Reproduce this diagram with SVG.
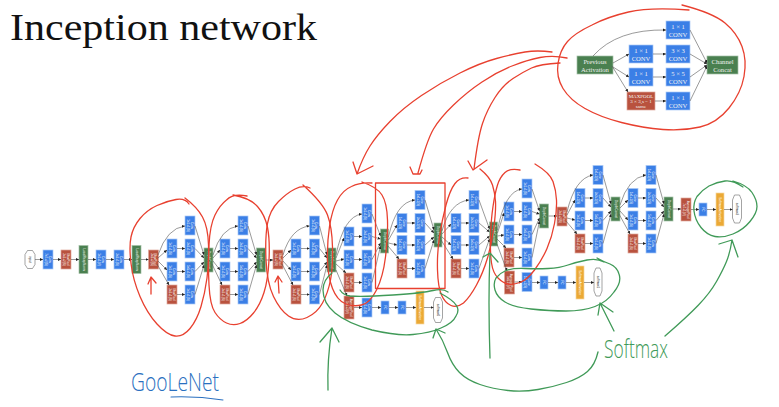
<svg xmlns="http://www.w3.org/2000/svg" width="779" height="407" viewBox="0 0 779 407">
<style>
text{font-family:"Liberation Sans",Arial,sans-serif}
.t text{font-size:3.1px;fill:#fff;text-anchor:middle}
.c rect{fill:#3b7fe6;stroke:#a9c8f5;stroke-width:.7}
.r rect{fill:#b9523e;stroke:#e0a99d;stroke-width:.7}
.g rect{fill:#4a8050;stroke:#a3c0a6;stroke-width:.7}
.o rect{fill:#eba935;stroke:#f6d79f;stroke-width:.7}
.s polygon{fill:#fff;stroke:#666;stroke-width:.6}
.s text{fill:#222}
.i text{font-family:"Liberation Serif","Times New Roman",serif;font-size:6.6px;fill:#f2f2f2;text-anchor:middle}
.i .m{font-size:5px}
.l{fill:none;stroke:#555;stroke-width:.6;marker-end:url(#a)}
.red{fill:none;stroke:#e8402f;stroke-width:1.3;stroke-linecap:round;stroke-linejoin:round}
.grn{fill:none;stroke:#409a58;stroke-width:1.3;stroke-linecap:round;stroke-linejoin:round}
.blu{fill:none;stroke:#2a70c0;stroke-width:1.1;stroke-linecap:round}
</style>
<defs><marker id="a" markerWidth="4" markerHeight="4" refX="3" refY="1.5" orient="auto" markerUnits="userSpaceOnUse"><path d="M0 0L3 1.5L0 3z" fill="#222"/></marker></defs>
<rect width="779" height="407" fill="#fff"/>
<text id="title" x="10" y="40" font-size="38" textLength="307" lengthAdjust="spacingAndGlyphs" style="font-family:'Liberation Serif','Times New Roman',serif" fill="#111">Inception network</text>

<g id="inset" class="i">
<g id="i-prev" class="g"><rect x="577" y="56" width="36" height="18"/><text x="595" y="63.5">Previous</text><text x="595" y="71.5">Activation</text></g>
<g id="i-top" class="c"><rect x="666" y="21" width="24" height="18"/><text x="678" y="28.5">1 × 1</text><text x="678" y="36.5">CONV</text></g>
<g id="i-a1" class="c"><rect x="629" y="45" width="24" height="18"/><text x="641" y="52.5">1 × 1</text><text x="641" y="60.5">CONV</text></g>
<g id="i-a2" class="c"><rect x="629" y="68" width="24" height="18"/><text x="641" y="75.5">1 × 1</text><text x="641" y="83.5">CONV</text></g>
<g id="i-pool" class="r"><rect x="627" y="92" width="28" height="18"/><text class="m" x="641" y="97.5">MAXPOOL</text><text class="m" x="641" y="102.5">3 × 3,s = 1</text><text class="m" x="641" y="108">same</text></g>
<g id="i-b1" class="c"><rect x="666" y="45" width="24" height="18"/><text x="678" y="52.5">3 × 3</text><text x="678" y="60.5">CONV</text></g>
<g id="i-b2" class="c"><rect x="666" y="68" width="24" height="18"/><text x="678" y="75.5">5 × 5</text><text x="678" y="83.5">CONV</text></g>
<g id="i-b3" class="c"><rect x="666" y="92" width="24" height="18"/><text x="678" y="99.5">1 × 1</text><text x="678" y="107.5">CONV</text></g>
<g id="i-concat" class="g"><rect x="707" y="56" width="31" height="18"/><text x="722.5" y="63.5">Channel</text><text x="722.5" y="71.5">Concat</text></g>
</g>

<g id="stem" class="t">
<g id="input" class="s" transform="translate(30,259.5)"><polygon points="-2.5,-9 2.5,-9 5,-5 5,5 2.5,9 -2.5,9 -5,5 -5,-5"/><text transform="rotate(90)" y="1">input</text></g>
<g id="s1" class="c" transform="translate(48,259.5)"><rect x="-5" y="-9.5" width="10" height="19"/><text transform="rotate(90)"><tspan x="0" y="-.5">Conv</tspan><tspan x="0" y="3">7x7+2(S)</tspan></text></g>
<g id="s2" class="r" transform="translate(66,259.5)"><rect x="-5" y="-9.5" width="10" height="19"/><text transform="rotate(90)"><tspan x="0" y="-.5">MaxPool</tspan><tspan x="0" y="3">3x3+2(S)</tspan></text></g>
<g id="s3" class="g" transform="translate(83.5,259.5)"><rect x="-4.5" y="-14" width="9" height="28"/><text transform="rotate(90)" y="1">LocalRespNorm</text></g>
<g id="s4" class="c" transform="translate(101,259.5)"><rect x="-5" y="-9.5" width="10" height="19"/><text transform="rotate(90)"><tspan x="0" y="-.5">Conv</tspan><tspan x="0" y="3">1x1+1(V)</tspan></text></g>
<g id="s5" class="c" transform="translate(119,259.5)"><rect x="-5" y="-9.5" width="10" height="19"/><text transform="rotate(90)"><tspan x="0" y="-.5">Conv</tspan><tspan x="0" y="3">3x3+1(S)</tspan></text></g>
<g id="s6" class="g" transform="translate(136.5,259.5)"><rect x="-4.5" y="-14" width="9" height="28"/><text transform="rotate(90)" y="1">LocalRespNorm</text></g>
<g id="s7" class="r" transform="translate(153.5,259.5)"><rect x="-5" y="-9.5" width="10" height="19"/><text transform="rotate(90)"><tspan x="0" y="-.5">MaxPool</tspan><tspan x="0" y="3">3x3+2(S)</tspan></text></g>
</g>

<g id="module1" class="t">
<g id="m1a1" class="c" transform="translate(172,248.5)"><rect x="-5" y="-9.5" width="10" height="19"/><text transform="rotate(90)"><tspan x="0" y="-.5">Conv</tspan><tspan x="0" y="3">1x1+1(S)</tspan></text></g>
<g id="m1a2" class="c" transform="translate(172,271.5)"><rect x="-5" y="-9.5" width="10" height="19"/><text transform="rotate(90)"><tspan x="0" y="-.5">Conv</tspan><tspan x="0" y="3">1x1+1(S)</tspan></text></g>
<g id="m1a3" class="r" transform="translate(172,294.5)"><rect x="-5" y="-9.5" width="10" height="19"/><text transform="rotate(90)"><tspan x="0" y="-.5">MaxPool</tspan><tspan x="0" y="3">3x3+1(S)</tspan></text></g>
<g id="m1b1" class="c" transform="translate(190,225.5)"><rect x="-5" y="-9.5" width="10" height="19"/><text transform="rotate(90)"><tspan x="0" y="-.5">Conv</tspan><tspan x="0" y="3">1x1+1(S)</tspan></text></g>
<g id="m1b2" class="c" transform="translate(190,248.5)"><rect x="-5" y="-9.5" width="10" height="19"/><text transform="rotate(90)"><tspan x="0" y="-.5">Conv</tspan><tspan x="0" y="3">3x3+1(S)</tspan></text></g>
<g id="m1b3" class="c" transform="translate(190,271.5)"><rect x="-5" y="-9.5" width="10" height="19"/><text transform="rotate(90)"><tspan x="0" y="-.5">Conv</tspan><tspan x="0" y="3">5x5+1(S)</tspan></text></g>
<g id="m1b4" class="c" transform="translate(190,294.5)"><rect x="-5" y="-9.5" width="10" height="19"/><text transform="rotate(90)"><tspan x="0" y="-.5">Conv</tspan><tspan x="0" y="3">1x1+1(S)</tspan></text></g>
<g id="m1d" class="g" transform="translate(208.5,260)"><rect x="-4.5" y="-12" width="9" height="24"/><text transform="rotate(90)" y="1">DepthConcat</text></g>
</g>
<g id="module2" class="t">
<g id="m2a1" class="c" transform="translate(225,248.5)"><rect x="-5" y="-9.5" width="10" height="19"/><text transform="rotate(90)"><tspan x="0" y="-.5">Conv</tspan><tspan x="0" y="3">1x1+1(S)</tspan></text></g>
<g id="m2a2" class="c" transform="translate(225,271.5)"><rect x="-5" y="-9.5" width="10" height="19"/><text transform="rotate(90)"><tspan x="0" y="-.5">Conv</tspan><tspan x="0" y="3">1x1+1(S)</tspan></text></g>
<g id="m2a3" class="r" transform="translate(225,294.5)"><rect x="-5" y="-9.5" width="10" height="19"/><text transform="rotate(90)"><tspan x="0" y="-.5">MaxPool</tspan><tspan x="0" y="3">3x3+1(S)</tspan></text></g>
<g id="m2b1" class="c" transform="translate(243,225.5)"><rect x="-5" y="-9.5" width="10" height="19"/><text transform="rotate(90)"><tspan x="0" y="-.5">Conv</tspan><tspan x="0" y="3">1x1+1(S)</tspan></text></g>
<g id="m2b2" class="c" transform="translate(243,248.5)"><rect x="-5" y="-9.5" width="10" height="19"/><text transform="rotate(90)"><tspan x="0" y="-.5">Conv</tspan><tspan x="0" y="3">3x3+1(S)</tspan></text></g>
<g id="m2b3" class="c" transform="translate(243,271.5)"><rect x="-5" y="-9.5" width="10" height="19"/><text transform="rotate(90)"><tspan x="0" y="-.5">Conv</tspan><tspan x="0" y="3">5x5+1(S)</tspan></text></g>
<g id="m2b4" class="c" transform="translate(243,294.5)"><rect x="-5" y="-9.5" width="10" height="19"/><text transform="rotate(90)"><tspan x="0" y="-.5">Conv</tspan><tspan x="0" y="3">1x1+1(S)</tspan></text></g>
<g id="m2d" class="g" transform="translate(261,260)"><rect x="-4.5" y="-12" width="9" height="24"/><text transform="rotate(90)" y="1">DepthConcat</text></g>
<g id="m2p" class="r" transform="translate(278,259.5)"><rect x="-5" y="-9.5" width="10" height="19"/><text transform="rotate(90)"><tspan x="0" y="-.5">MaxPool</tspan><tspan x="0" y="3">3x3+2(S)</tspan></text></g>
</g>
<g id="module3" class="t">
<g id="m3a1" class="c" transform="translate(296,248.5)"><rect x="-5" y="-9.5" width="10" height="19"/><text transform="rotate(90)"><tspan x="0" y="-.5">Conv</tspan><tspan x="0" y="3">1x1+1(S)</tspan></text></g>
<g id="m3a2" class="c" transform="translate(296,271.5)"><rect x="-5" y="-9.5" width="10" height="19"/><text transform="rotate(90)"><tspan x="0" y="-.5">Conv</tspan><tspan x="0" y="3">1x1+1(S)</tspan></text></g>
<g id="m3a3" class="r" transform="translate(296,294.5)"><rect x="-5" y="-9.5" width="10" height="19"/><text transform="rotate(90)"><tspan x="0" y="-.5">MaxPool</tspan><tspan x="0" y="3">3x3+1(S)</tspan></text></g>
<g id="m3b1" class="c" transform="translate(314.5,225.5)"><rect x="-5" y="-9.5" width="10" height="19"/><text transform="rotate(90)"><tspan x="0" y="-.5">Conv</tspan><tspan x="0" y="3">1x1+1(S)</tspan></text></g>
<g id="m3b2" class="c" transform="translate(314.5,248.5)"><rect x="-5" y="-9.5" width="10" height="19"/><text transform="rotate(90)"><tspan x="0" y="-.5">Conv</tspan><tspan x="0" y="3">3x3+1(S)</tspan></text></g>
<g id="m3b3" class="c" transform="translate(314.5,271.5)"><rect x="-5" y="-9.5" width="10" height="19"/><text transform="rotate(90)"><tspan x="0" y="-.5">Conv</tspan><tspan x="0" y="3">5x5+1(S)</tspan></text></g>
<g id="m3b4" class="c" transform="translate(314.5,294.5)"><rect x="-5" y="-9.5" width="10" height="19"/><text transform="rotate(90)"><tspan x="0" y="-.5">Conv</tspan><tspan x="0" y="3">1x1+1(S)</tspan></text></g>
<g id="m3d" class="g" transform="translate(331.5,260)"><rect x="-4.5" y="-12" width="9" height="24"/><text transform="rotate(90)" y="1">DepthConcat</text></g>
</g>
<g id="module4" class="t">
<g id="m4a1" class="c" transform="translate(349,236.5)"><rect x="-5" y="-9.5" width="10" height="19"/><text transform="rotate(90)"><tspan x="0" y="-.5">Conv</tspan><tspan x="0" y="3">1x1+1(S)</tspan></text></g>
<g id="m4a2" class="c" transform="translate(349,259.5)"><rect x="-5" y="-9.5" width="10" height="19"/><text transform="rotate(90)"><tspan x="0" y="-.5">Conv</tspan><tspan x="0" y="3">1x1+1(S)</tspan></text></g>
<g id="m4a3" class="r" transform="translate(349,282.5)"><rect x="-5" y="-9.5" width="10" height="19"/><text transform="rotate(90)"><tspan x="0" y="-.5">MaxPool</tspan><tspan x="0" y="3">3x3+1(S)</tspan></text></g>
<g id="m4b1" class="c" transform="translate(367,213.5)"><rect x="-5" y="-9.5" width="10" height="19"/><text transform="rotate(90)"><tspan x="0" y="-.5">Conv</tspan><tspan x="0" y="3">1x1+1(S)</tspan></text></g>
<g id="m4b2" class="c" transform="translate(367,236.5)"><rect x="-5" y="-9.5" width="10" height="19"/><text transform="rotate(90)"><tspan x="0" y="-.5">Conv</tspan><tspan x="0" y="3">3x3+1(S)</tspan></text></g>
<g id="m4b3" class="c" transform="translate(367,259.5)"><rect x="-5" y="-9.5" width="10" height="19"/><text transform="rotate(90)"><tspan x="0" y="-.5">Conv</tspan><tspan x="0" y="3">5x5+1(S)</tspan></text></g>
<g id="m4b4" class="c" transform="translate(367,282.5)"><rect x="-5" y="-9.5" width="10" height="19"/><text transform="rotate(90)"><tspan x="0" y="-.5">Conv</tspan><tspan x="0" y="3">1x1+1(S)</tspan></text></g>
<g id="m4d" class="g" transform="translate(384.5,241)"><rect x="-4" y="-12" width="8" height="24"/><text transform="rotate(90)" y="1">DepthConcat</text></g>
</g>
<g id="module5" class="t">
<g id="m5a1" class="c" transform="translate(402,223)"><rect x="-5" y="-9.5" width="10" height="19"/><text transform="rotate(90)"><tspan x="0" y="-.5">Conv</tspan><tspan x="0" y="3">1x1+1(S)</tspan></text></g>
<g id="m5a2" class="c" transform="translate(402,245)"><rect x="-5" y="-9.5" width="10" height="19"/><text transform="rotate(90)"><tspan x="0" y="-.5">Conv</tspan><tspan x="0" y="3">1x1+1(S)</tspan></text></g>
<g id="m5a3" class="r" transform="translate(402,268.5)"><rect x="-5" y="-9.5" width="10" height="19"/><text transform="rotate(90)"><tspan x="0" y="-.5">MaxPool</tspan><tspan x="0" y="3">3x3+1(S)</tspan></text></g>
<g id="m5b1" class="c" transform="translate(420,200)"><rect x="-5" y="-9.5" width="10" height="19"/><text transform="rotate(90)"><tspan x="0" y="-.5">Conv</tspan><tspan x="0" y="3">1x1+1(S)</tspan></text></g>
<g id="m5b2" class="c" transform="translate(420,223)"><rect x="-5" y="-9.5" width="10" height="19"/><text transform="rotate(90)"><tspan x="0" y="-.5">Conv</tspan><tspan x="0" y="3">3x3+1(S)</tspan></text></g>
<g id="m5b3" class="c" transform="translate(420,245)"><rect x="-5" y="-9.5" width="10" height="19"/><text transform="rotate(90)"><tspan x="0" y="-.5">Conv</tspan><tspan x="0" y="3">5x5+1(S)</tspan></text></g>
<g id="m5b4" class="c" transform="translate(420,268.5)"><rect x="-5" y="-9.5" width="10" height="19"/><text transform="rotate(90)"><tspan x="0" y="-.5">Conv</tspan><tspan x="0" y="3">1x1+1(S)</tspan></text></g>
<g id="m5d" class="g" transform="translate(438,235)"><rect x="-4" y="-12" width="8" height="24"/><text transform="rotate(90)" y="1">DepthConcat</text></g>
</g>
<g id="module6" class="t">
<g id="m6a1" class="c" transform="translate(456,223)"><rect x="-5" y="-9.5" width="10" height="19"/><text transform="rotate(90)"><tspan x="0" y="-.5">Conv</tspan><tspan x="0" y="3">1x1+1(S)</tspan></text></g>
<g id="m6a2" class="c" transform="translate(456,245)"><rect x="-5" y="-9.5" width="10" height="19"/><text transform="rotate(90)"><tspan x="0" y="-.5">Conv</tspan><tspan x="0" y="3">1x1+1(S)</tspan></text></g>
<g id="m6a3" class="r" transform="translate(456,268.5)"><rect x="-5" y="-9.5" width="10" height="19"/><text transform="rotate(90)"><tspan x="0" y="-.5">MaxPool</tspan><tspan x="0" y="3">3x3+1(S)</tspan></text></g>
<g id="m6b1" class="c" transform="translate(474,200)"><rect x="-5" y="-9.5" width="10" height="19"/><text transform="rotate(90)"><tspan x="0" y="-.5">Conv</tspan><tspan x="0" y="3">1x1+1(S)</tspan></text></g>
<g id="m6b2" class="c" transform="translate(474,223)"><rect x="-5" y="-9.5" width="10" height="19"/><text transform="rotate(90)"><tspan x="0" y="-.5">Conv</tspan><tspan x="0" y="3">3x3+1(S)</tspan></text></g>
<g id="m6b3" class="c" transform="translate(474,245)"><rect x="-5" y="-9.5" width="10" height="19"/><text transform="rotate(90)"><tspan x="0" y="-.5">Conv</tspan><tspan x="0" y="3">5x5+1(S)</tspan></text></g>
<g id="m6b4" class="c" transform="translate(474,268.5)"><rect x="-5" y="-9.5" width="10" height="19"/><text transform="rotate(90)"><tspan x="0" y="-.5">Conv</tspan><tspan x="0" y="3">1x1+1(S)</tspan></text></g>
<g id="m6d" class="g" transform="translate(493.5,234)"><rect x="-4" y="-12" width="8" height="24"/><text transform="rotate(90)" y="1">DepthConcat</text></g>
</g>
<g id="module7" class="t">
<g id="m7a1" class="c" transform="translate(509,211.5)"><rect x="-5" y="-9.5" width="10" height="19"/><text transform="rotate(90)"><tspan x="0" y="-.5">Conv</tspan><tspan x="0" y="3">1x1+1(S)</tspan></text></g>
<g id="m7a2" class="c" transform="translate(509,234.5)"><rect x="-5" y="-9.5" width="10" height="19"/><text transform="rotate(90)"><tspan x="0" y="-.5">Conv</tspan><tspan x="0" y="3">1x1+1(S)</tspan></text></g>
<g id="m7a3" class="r" transform="translate(509,257.5)"><rect x="-5" y="-9.5" width="10" height="19"/><text transform="rotate(90)"><tspan x="0" y="-.5">MaxPool</tspan><tspan x="0" y="3">3x3+1(S)</tspan></text></g>
<g id="m7b1" class="c" transform="translate(527,188.5)"><rect x="-5" y="-9.5" width="10" height="19"/><text transform="rotate(90)"><tspan x="0" y="-.5">Conv</tspan><tspan x="0" y="3">1x1+1(S)</tspan></text></g>
<g id="m7b2" class="c" transform="translate(527,211.5)"><rect x="-5" y="-9.5" width="10" height="19"/><text transform="rotate(90)"><tspan x="0" y="-.5">Conv</tspan><tspan x="0" y="3">3x3+1(S)</tspan></text></g>
<g id="m7b3" class="c" transform="translate(527,234.5)"><rect x="-5" y="-9.5" width="10" height="19"/><text transform="rotate(90)"><tspan x="0" y="-.5">Conv</tspan><tspan x="0" y="3">5x5+1(S)</tspan></text></g>
<g id="m7b4" class="c" transform="translate(527,257.5)"><rect x="-5" y="-9.5" width="10" height="19"/><text transform="rotate(90)"><tspan x="0" y="-.5">Conv</tspan><tspan x="0" y="3">1x1+1(S)</tspan></text></g>
<g id="m7d" class="g" transform="translate(544,216)"><rect x="-4.5" y="-12" width="9" height="24"/><text transform="rotate(90)" y="1">DepthConcat</text></g>
<g id="m7p" class="r" transform="translate(562,216.5)"><rect x="-5" y="-9.5" width="10" height="19"/><text transform="rotate(90)"><tspan x="0" y="-.5">MaxPool</tspan><tspan x="0" y="3">3x3+2(S)</tspan></text></g>
</g>
<g id="module8" class="t">
<g id="m8a1" class="c" transform="translate(580,198)"><rect x="-5" y="-9.5" width="10" height="19"/><text transform="rotate(90)"><tspan x="0" y="-.5">Conv</tspan><tspan x="0" y="3">1x1+1(S)</tspan></text></g>
<g id="m8a2" class="c" transform="translate(580,220.5)"><rect x="-5" y="-9.5" width="10" height="19"/><text transform="rotate(90)"><tspan x="0" y="-.5">Conv</tspan><tspan x="0" y="3">1x1+1(S)</tspan></text></g>
<g id="m8a3" class="r" transform="translate(580,243.5)"><rect x="-5" y="-9.5" width="10" height="19"/><text transform="rotate(90)"><tspan x="0" y="-.5">MaxPool</tspan><tspan x="0" y="3">3x3+1(S)</tspan></text></g>
<g id="m8b1" class="c" transform="translate(598,175)"><rect x="-5" y="-9.5" width="10" height="19"/><text transform="rotate(90)"><tspan x="0" y="-.5">Conv</tspan><tspan x="0" y="3">1x1+1(S)</tspan></text></g>
<g id="m8b2" class="c" transform="translate(598,198)"><rect x="-5" y="-9.5" width="10" height="19"/><text transform="rotate(90)"><tspan x="0" y="-.5">Conv</tspan><tspan x="0" y="3">3x3+1(S)</tspan></text></g>
<g id="m8b3" class="c" transform="translate(598,220.5)"><rect x="-5" y="-9.5" width="10" height="19"/><text transform="rotate(90)"><tspan x="0" y="-.5">Conv</tspan><tspan x="0" y="3">5x5+1(S)</tspan></text></g>
<g id="m8b4" class="c" transform="translate(598,243.5)"><rect x="-5" y="-9.5" width="10" height="19"/><text transform="rotate(90)"><tspan x="0" y="-.5">Conv</tspan><tspan x="0" y="3">1x1+1(S)</tspan></text></g>
<g id="m8d" class="g" transform="translate(615.5,209)"><rect x="-4.5" y="-12" width="9" height="24"/><text transform="rotate(90)" y="1">DepthConcat</text></g>
</g>
<g id="module9" class="t">
<g id="m9a1" class="c" transform="translate(633,198)"><rect x="-5" y="-9.5" width="10" height="19"/><text transform="rotate(90)"><tspan x="0" y="-.5">Conv</tspan><tspan x="0" y="3">1x1+1(S)</tspan></text></g>
<g id="m9a2" class="c" transform="translate(633,220.5)"><rect x="-5" y="-9.5" width="10" height="19"/><text transform="rotate(90)"><tspan x="0" y="-.5">Conv</tspan><tspan x="0" y="3">1x1+1(S)</tspan></text></g>
<g id="m9a3" class="r" transform="translate(633,243.5)"><rect x="-5" y="-9.5" width="10" height="19"/><text transform="rotate(90)"><tspan x="0" y="-.5">MaxPool</tspan><tspan x="0" y="3">3x3+1(S)</tspan></text></g>
<g id="m9b1" class="c" transform="translate(651,175)"><rect x="-5" y="-9.5" width="10" height="19"/><text transform="rotate(90)"><tspan x="0" y="-.5">Conv</tspan><tspan x="0" y="3">1x1+1(S)</tspan></text></g>
<g id="m9b2" class="c" transform="translate(651,198)"><rect x="-5" y="-9.5" width="10" height="19"/><text transform="rotate(90)"><tspan x="0" y="-.5">Conv</tspan><tspan x="0" y="3">3x3+1(S)</tspan></text></g>
<g id="m9b3" class="c" transform="translate(651,220.5)"><rect x="-5" y="-9.5" width="10" height="19"/><text transform="rotate(90)"><tspan x="0" y="-.5">Conv</tspan><tspan x="0" y="3">5x5+1(S)</tspan></text></g>
<g id="m9b4" class="c" transform="translate(651,243.5)"><rect x="-5" y="-9.5" width="10" height="19"/><text transform="rotate(90)"><tspan x="0" y="-.5">Conv</tspan><tspan x="0" y="3">1x1+1(S)</tspan></text></g>
<g id="m9d" class="g" transform="translate(668.5,209)"><rect x="-4.5" y="-12" width="9" height="24"/><text transform="rotate(90)" y="1">DepthConcat</text></g>
</g>
<g id="output" class="t">
<g id="o1" class="r" transform="translate(686,209.5)"><rect x="-5" y="-11.5" width="10" height="23"/><text transform="rotate(90)"><tspan x="0" y="-.5">AveragePool</tspan><tspan x="0" y="3">7x7+1(V)</tspan></text></g>
<g id="o2" class="c" transform="translate(703,209.5)"><rect x="-4" y="-6.5" width="8" height="13"/><text transform="rotate(90)" y="1">FC</text></g>
<g id="o3" class="o" transform="translate(720,209.5)"><rect x="-4" y="-16.5" width="8" height="33"/><text transform="rotate(90)" y="1">SoftmaxActivation</text></g>
<g id="o4" class="s" transform="translate(737,209)"><polygon points="-2.5,-14 2.5,-14 4.5,-9 4.5,9 2.5,14 -2.5,14 -4.5,9 -4.5,-9"/><text transform="rotate(90)" y="1">softmax2</text></g>
</g>
<g id="aux1" class="t">
<g id="x1" class="r" transform="translate(349,307.5)"><rect x="-5" y="-11.5" width="10" height="23"/><text transform="rotate(90)"><tspan x="0" y="-.5">AveragePool</tspan><tspan x="0" y="3">5x5+3(V)</tspan></text></g>
<g id="x2" class="c" transform="translate(367,307.5)"><rect x="-5" y="-9.5" width="10" height="19"/><text transform="rotate(90)"><tspan x="0" y="-.5">Conv</tspan><tspan x="0" y="3">1x1+1(S)</tspan></text></g>
<g id="x3" class="c" transform="translate(385,307.5)"><rect x="-4" y="-6.5" width="8" height="13"/><text transform="rotate(90)" y="1">FC</text></g>
<g id="x4" class="c" transform="translate(402,307.5)"><rect x="-4" y="-6.5" width="8" height="13"/><text transform="rotate(90)" y="1">FC</text></g>
<g id="x5" class="o" transform="translate(420,307.5)"><rect x="-4" y="-16.5" width="8" height="33"/><text transform="rotate(90)" y="1">SoftmaxActivation</text></g>
<g id="x6" class="s" transform="translate(438,310)"><polygon points="-2.5,-12.5 2.5,-12.5 4.5,-8 4.5,8 2.5,12.5 -2.5,12.5 -4.5,8 -4.5,-8"/><text transform="rotate(90)" y="1">softmax0</text></g>
</g>
<g id="aux2" class="t">
<g id="y1" class="r" transform="translate(509.5,282.5)"><rect x="-5" y="-11.5" width="10" height="23"/><text transform="rotate(90)"><tspan x="0" y="-.5">AveragePool</tspan><tspan x="0" y="3">5x5+3(V)</tspan></text></g>
<g id="y2" class="c" transform="translate(527,282)"><rect x="-5" y="-9.5" width="10" height="19"/><text transform="rotate(90)"><tspan x="0" y="-.5">Conv</tspan><tspan x="0" y="3">1x1+1(S)</tspan></text></g>
<g id="y3" class="c" transform="translate(544,282.5)"><rect x="-4" y="-6.5" width="8" height="13"/><text transform="rotate(90)" y="1">FC</text></g>
<g id="y4" class="c" transform="translate(562,282.5)"><rect x="-4" y="-6.5" width="8" height="13"/><text transform="rotate(90)" y="1">FC</text></g>
<g id="y5" class="o" transform="translate(580,282.5)"><rect x="-4" y="-16.5" width="8" height="33"/><text transform="rotate(90)" y="1">SoftmaxActivation</text></g>
<g id="y6" class="s" transform="translate(598,282)"><polygon points="-2,-14 2,-14 4,-9 4,9 2,14 -2,14 -4,9 -4,-9"/><text transform="rotate(90)" y="1">softmax1</text></g>
</g>

<g id="connectors">
<path class="l" d="M593 56Q617 29 666 30"/><path class="l" d="M613 63L629 54"/><path class="l" d="M613 67L629 77"/><path class="l" d="M612 66L628 92"/><path class="l" d="M653 54H666"/><path class="l" d="M653 77H666"/><path class="l" d="M655 101H666"/><path class="l" d="M690 30L707 63"/><path class="l" d="M690 54L707 64"/><path class="l" d="M690 77L707 65"/><path class="l" d="M690 101L707 66"/>
<path class="l" d="M35 259.5H43"/><path class="l" d="M53 259.5H61"/><path class="l" d="M71 259.5H79"/><path class="l" d="M88 259.5H96"/><path class="l" d="M106 259.5H114"/><path class="l" d="M124 259.5H132"/><path class="l" d="M141 259.5H148.5"/>
<path class="l" d="M158 255Q167 228 185 226"/><path class="l" d="M158 258L167 250"/><path class="l" d="M158 261L167 270"/><path class="l" d="M157 264L169 285"/><path class="l" d="M177 248.5H185"/><path class="l" d="M177 271.5H185"/><path class="l" d="M177 294.5H185"/><path class="l" d="M195 226L204 255"/><path class="l" d="M195 248.5L204 258"/><path class="l" d="M195 271.5L204 262"/><path class="l" d="M195 294.5L204 265"/>
<path class="l" d="M213 255Q221 228 238 226"/><path class="l" d="M213 258L220 250"/><path class="l" d="M213 261L220 270"/><path class="l" d="M212 264L222 285"/><path class="l" d="M230 248.5H238"/><path class="l" d="M230 271.5H238"/><path class="l" d="M230 294.5H238"/><path class="l" d="M248 226L256.5 255"/><path class="l" d="M248 248.5L256.5 258"/><path class="l" d="M248 271.5L256.5 262"/><path class="l" d="M248 294.5L256.5 265"/><path class="l" d="M265.5 260H273"/>
<path class="l" d="M283 255Q291 228 309.5 226"/><path class="l" d="M283 258L291 250"/><path class="l" d="M283 261L291 270"/><path class="l" d="M282 264L293 285"/><path class="l" d="M301 248.5H309.5"/><path class="l" d="M301 271.5H309.5"/><path class="l" d="M301 294.5H309.5"/><path class="l" d="M319.5 226L327 255"/><path class="l" d="M319.5 248.5L327 258"/><path class="l" d="M319.5 271.5L327 262"/><path class="l" d="M319.5 294.5L327 265"/>
<path class="l" d="M336 255Q344 216 362 214"/><path class="l" d="M336 258L344 238"/><path class="l" d="M336 261L344 259"/><path class="l" d="M336 264L346 273"/><path class="l" d="M354 236.5H362"/><path class="l" d="M354 259.5H362"/><path class="l" d="M354 282.5H362"/><path class="l" d="M372 214L380.5 236"/><path class="l" d="M372 236.5L380.5 239"/><path class="l" d="M372 259.5L380.5 243"/><path class="l" d="M372 282.5L380.5 246"/>
<path class="l" d="M388.5 237Q396 202 415 200"/><path class="l" d="M388.5 240L397 225"/><path class="l" d="M388.5 243L397 245"/><path class="l" d="M388 246L399 259"/><path class="l" d="M407 223H415"/><path class="l" d="M407 245H415"/><path class="l" d="M407 268.5H415"/><path class="l" d="M425 200L434 230"/><path class="l" d="M425 223L434 233"/><path class="l" d="M425 245L434 237"/><path class="l" d="M425 268.5L434 240"/>
<path class="l" d="M442 231Q450 202 469 200"/><path class="l" d="M442 234L451 224"/><path class="l" d="M442 237L451 245"/><path class="l" d="M441 240L453 259"/><path class="l" d="M461 223H469"/><path class="l" d="M461 245H469"/><path class="l" d="M461 268.5H469"/><path class="l" d="M479 200L489.500 229"/><path class="l" d="M479 223L489.500 232"/><path class="l" d="M479 245L489.500 236"/><path class="l" d="M479 268.5L489.500 239"/>
<path class="l" d="M497.500 230Q505 191 522 189"/><path class="l" d="M497.500 233L504 213"/><path class="l" d="M497.500 236L504 235"/><path class="l" d="M497 239L506 248"/><path class="l" d="M514 211.500H522"/><path class="l" d="M514 234.500H522"/><path class="l" d="M514 257.500H522"/><path class="l" d="M532 189L539.500 211"/><path class="l" d="M532 211.500L539.500 214"/><path class="l" d="M532 234.500L539.500 218"/><path class="l" d="M532 257.500L539.500 221"/><path class="l" d="M548.500 216H557"/>
<path class="l" d="M567 212Q575 178 593 175"/><path class="l" d="M567 215L575 200"/><path class="l" d="M567 218L575 220"/><path class="l" d="M566 221L577 234"/><path class="l" d="M585 198H593"/><path class="l" d="M585 220.500H593"/><path class="l" d="M585 243.500H593"/><path class="l" d="M603 175L611 204"/><path class="l" d="M603 198L611 207"/><path class="l" d="M603 220.500L611 211"/><path class="l" d="M603 243.500L611 214"/>
<path class="l" d="M620 205Q628 178 646 175"/><path class="l" d="M620 208L628 200"/><path class="l" d="M620 211L628 220"/><path class="l" d="M619 214L630 234"/><path class="l" d="M638 198H646"/><path class="l" d="M638 220.500H646"/><path class="l" d="M638 243.500H646"/><path class="l" d="M656 175L664 204"/><path class="l" d="M656 198L664 207"/><path class="l" d="M656 220.500L664 211"/><path class="l" d="M656 243.500L664 214"/><path class="l" d="M673 209H681"/><path class="l" d="M691 209.500H699"/><path class="l" d="M707 209.500H716"/><path class="l" d="M724 209.500H732.500"/>
<path class="l" d="M336 270L347 296"/><path class="l" d="M354 307.500H362"/><path class="l" d="M372 307.500H381"/><path class="l" d="M389 307.500H398"/><path class="l" d="M406 307.500H416"/><path class="l" d="M424 307.500H433.500"/>
<path class="l" d="M497 244L507 271"/><path class="l" d="M514.500 282H522"/><path class="l" d="M532 282.500H540"/><path class="l" d="M548 282.500H558"/><path class="l" d="M566 282.500H576"/><path class="l" d="M584 282.500H594"/>
</g>

<g id="ink-red">
<path class="red" d="M689 10Q650 7 628.500 12Q607 17 592 25Q575 33 567.500 41.500Q560 50 558 63.500Q556 77 563 88.500Q570 100 585 108.500Q600 117 621.500 122.500Q643 128 663 129.500Q683 131 700 127Q717 123 729 108Q741 93 744 76.500Q747 60 742 46.500Q737 33 725 23Q713 13 682 5"/>
<path class="red" d="M552 52Q537 50 525 52Q513 54 496.500 58.500Q480 63 460 73Q440 83 421.500 95.500Q403 108 390 121.500Q377 135 370 146Q363 157 357 174M353 162L357 174L373 166"/>
<path class="red" d="M567 58Q553 55 540 57.500Q527 60 512 66Q497 72 482 82Q467 92 453.500 105Q440 118 433.500 129Q427 140 418 173M410 167L413 174L420 174L422 170"/>
<path class="red" d="M560 63Q540 64 531.500 68Q523 72 513 78.500Q503 85 495 97.500Q487 110 482.500 123.500Q478 137 474 169M468 161L473 170L487 160"/>
<path class="red" d="M189 204Q185 198 176 199.500Q167 201 157 205.500Q147 210 140 218.500Q133 227 131 237Q129 247 131 263.500Q133 280 140 296.500Q147 313 157 324Q167 335 175 336Q183 337 190 328.500Q197 320 201 306.500Q205 293 207 278Q209 263 208.500 245Q208 227 202.500 217Q197 207 185 198"/>
<path class="red" d="M247 196Q233 193 226.500 200Q220 205 215 215Q210 225 209 245Q208 265 209 285Q210 305 215 312.500Q220 320 226.500 323Q233 326 240 323.500Q247 321 253.500 313Q260 305 264 292.500Q268 280 269 260Q270 240 267.500 227.500Q265 215 257.500 206.500Q250 198 233 195"/>
<path class="red" d="M310 188Q303 185 295 189Q287 193 278.500 201.500Q270 210 267.500 223.500Q265 237 266 260Q267 283 273.500 296.500Q280 310 288.500 316Q297 322 307 317.500Q317 313 322.500 303Q328 293 330.500 280Q333 267 332.500 247Q332 227 327.500 215Q323 203 303 185"/>
<path class="red" d="M372 183Q360 182 351.500 186.500Q343 190 337.500 200Q332 210 329.500 226.500Q327 243 327.500 260Q328 277 332.500 288.500Q337 300 345 303.500Q353 307 361.500 305Q370 303 376.500 290Q383 277 385.500 257Q388 237 387.500 220Q387 203 382 195Q377 187 362 182"/>
<rect class="red" x="375.500" y="183" width="69.500" height="105.500" stroke-width="1.500"/>
<path class="red" d="M468 178Q460 177 455 183.500Q450 190 446 205Q442 220 439.500 236.500Q437 253 437.500 270Q438 287 441.500 295Q445 303 451 305.500Q457 308 463.500 303Q470 297 476.500 285Q483 273 487.500 258Q492 243 494 226.500Q496 210 495.500 201.500Q495 193 492.500 185Q490 177 480 169"/>
<path class="red" d="M520 170Q510 168 505 172.500Q500 177 497.500 185Q495 193 493 206.500Q491 220 490.500 236.500Q490 253 491.500 263Q493 273 498 278Q503 283 508 284Q513 285 520 282.500Q527 280 534.500 270Q542 260 547 248.500Q552 237 554.500 223.500Q557 210 556.500 200Q556 190 553 181.500Q550 173 535 164"/>
<path class="red" d="M151 294L151 278M148 284L151 277L156 283"/>
<path class="red" d="M279 293L278 277M275 282L278 276L282 282"/>
</g>

<g id="ink-green">
<path class="grn" d="M448 292Q443 288 433 290.500Q423 293 393 295Q363 297 350 296Q343 295 340 290M332 273Q323 280 323 290Q323 303 335 313Q347 323 372 330Q397 336 413 334.500Q430 333 441 328Q453 323 456 316Q460 310 456 305Q453 300 440 293"/>
<path class="grn" d="M604 262Q597 258 587 260Q577 262 568 265Q560 268 548 268.500Q537 269 525 268.500Q513 268 506 270.500Q500 273 496 278Q493 283 495 290Q497 297 505 302Q513 307 531 309Q550 311 566 311Q583 311 595 306.500Q607 302 614 292Q622 282 619 274Q617 267 610 264Q604 262 597 258"/>
<path class="grn" d="M743 187Q733 180 725 181Q717 182 709 186Q702 190 697 196.500Q693 203 694 211Q695 220 701 227.500Q707 235 715 236.500Q723 238 733 234Q743 230 750 221.500Q757 213 757 206.500Q757 200 752 192.500Q747 185 733 181"/>
<path class="grn" d="M328 390Q327 360 332 328M320 342L332 328L339 342"/>
<path class="grn" d="M490 358Q488 300 490 253M483 257L490 253L498 262"/>
<path class="grn" d="M614 331Q607 317 600 303M598 315L600 303L613 312"/>
<path class="grn" d="M598 352Q595 365 587.500 371.500Q580 378 566.500 382.500Q553 387 538 389.500Q523 392 508 390.500Q493 389 480 384.500Q467 380 459.500 372.500Q452 365 447.500 352.500Q443 340 436 329M433 338L436 329L445 333"/>
<path class="grn" d="M665 336Q687 317 698.500 305Q710 293 716.500 281.500Q723 270 726.500 261.500Q730 253 732 240M719 244L732 240L738 257"/>
<text id="softmax" x="604" y="358" font-size="25" textLength="64" lengthAdjust="spacingAndGlyphs" fill="#409a58" style="font-family:'Open Sans',sans-serif;font-weight:300">Softmax</text>
</g>

<g id="ink-blue">
<text id="googlenet" x="131" y="391" font-size="25" textLength="88" lengthAdjust="spacingAndGlyphs" fill="#2a70c0" style="font-family:'Open Sans',sans-serif;font-weight:300">GooLeNet</text>
<path class="blu" d="M171 397Q197 396 223 400"/>
</g>
</svg>
